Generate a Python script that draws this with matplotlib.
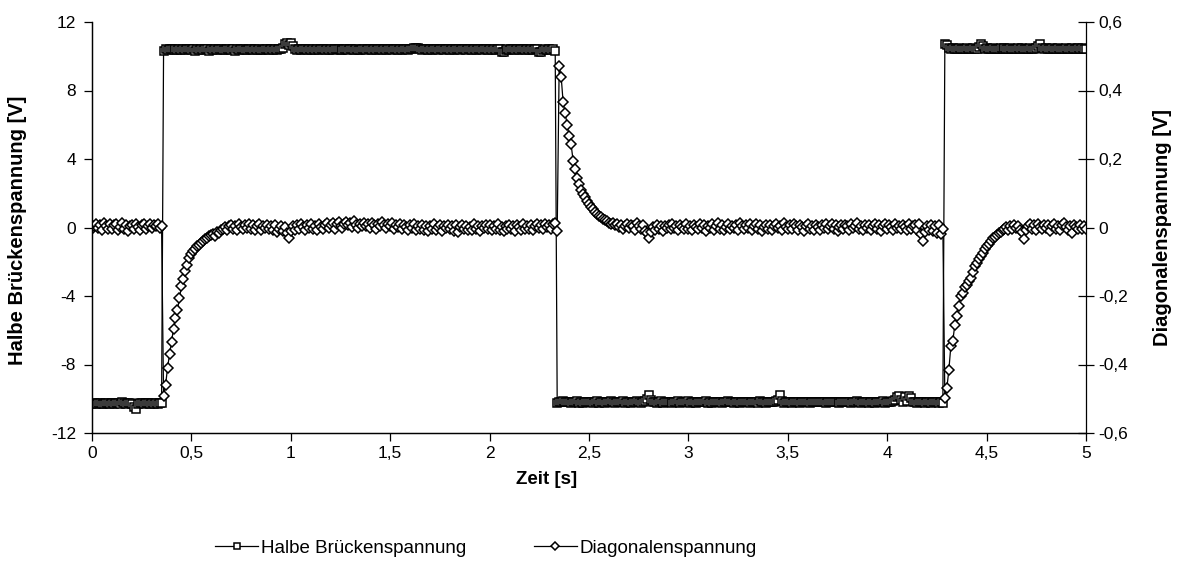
import numpy as np
import matplotlib.pyplot as plt
from matplotlib.lines import Line2D

plt.rcParams['font.family'] = ['Liberation Sans', 'DejaVu Sans']
plt.rcParams['axes.unicode_minus'] = False

# Abtastzeitpunkte (10 ms Raster)
zeit = np.linspace(0, 5, 501)

# Halbe Brückenspannung [V], eine Zeile = 0,1 s
halbe = [
    -10.28, -10.25, -10.30, -10.27, -10.24, -10.29, -10.31, -10.26, -10.22, -10.28,
    -10.25, -10.30, -10.27, -10.24, -10.29, -10.20, -10.26, -10.31, -10.27, -10.23,
    -10.29, -10.50, -10.62, -10.33, -10.26, -10.22, -10.29, -10.27, -10.24, -10.30,
    -10.26, -10.31, -10.25, -10.28, -10.22, -10.27, 10.32, 10.41, 10.38, 10.44,
    10.40, 10.36, 10.44, 10.39, 10.42, 10.35, 10.41, 10.38, 10.45, 10.40,
    10.37, 10.43, 10.30, 10.41, 10.38, 10.44, 10.36, 10.40, 10.42, 10.28,
    10.41, 10.38, 10.45, 10.37, 10.40, 10.43, 10.39, 10.36, 10.42, 10.40,
    10.38, 10.44, 10.30, 10.40, 10.37, 10.43, 10.41, 10.36, 10.39, 10.45,
    10.40, 10.37, 10.42, 10.38, 10.44, 10.39, 10.35, 10.41, 10.43, 10.38,
    10.40, 10.36, 10.42, 10.39, 10.44, 10.41, 10.48, 10.72, 10.78, 10.66,
    10.80, 10.62, 10.43, 10.38, 10.41, 10.36, 10.44, 10.40, 10.37, 10.42,
    10.39, 10.45, 10.38, 10.41, 10.36, 10.43, 10.40, 10.38, 10.44, 10.39,
    10.41, 10.37, 10.42, 10.40, 10.45, 10.38, 10.36, 10.41, 10.43, 10.39,
    10.40, 10.44, 10.37, 10.42, 10.39, 10.36, 10.41, 10.45, 10.38, 10.40,
    10.43, 10.39, 10.41, 10.37, 10.44, 10.40, 10.38, 10.42, 10.39, 10.45,
    10.41, 10.38, 10.43, 10.40, 10.36, 10.42, 10.39, 10.44, 10.41, 10.37,
    10.40, 10.43, 10.48, 10.50, 10.46, 10.41, 10.38, 10.42, 10.40, 10.37,
    10.42, 10.39, 10.44, 10.40, 10.37, 10.41, 10.43, 10.38, 10.40, 10.45,
    10.39, 10.41, 10.37, 10.43, 10.40, 10.38, 10.44, 10.41, 10.36, 10.42,
    10.40, 10.38, 10.43, 10.39, 10.41, 10.45, 10.37, 10.40, 10.42, 10.38,
    10.41, 10.39, 10.44, 10.37, 10.40, 10.42, 10.27, 10.25, 10.38, 10.41,
    10.39, 10.43, 10.40, 10.37, 10.42, 10.38, 10.44, 10.40, 10.36, 10.41,
    10.39, 10.42, 10.38, 10.44, 10.40, 10.26, 10.24, 10.37, 10.41, 10.39,
    10.42, 10.36, 10.40, 10.30, -10.22, -10.18, -10.20, -10.15, -10.21, -10.17,
    -10.20, -10.24, -10.18, -10.21, -10.16, -10.22, -10.19, -10.25, -10.20, -10.17,
    -10.21, -10.18, -10.23, -10.19, -10.15, -10.22, -10.20, -10.17, -10.24, -10.19,
    -10.21, -10.16, -10.20, -10.23, -10.18, -10.21, -10.19, -10.15, -10.22, -10.20,
    -10.17, -10.23, -10.19, -10.21, -10.16, -10.20, -10.24, -10.18, -10.12, -10.02,
    -9.78, -10.10, -10.21, -10.18, -10.22, -10.19, -10.16, -10.23, -10.20, -10.18,
    -10.21, -10.17, -10.24, -10.19, -10.20, -10.16, -10.22, -10.18, -10.21, -10.19,
    -10.15, -10.22, -10.20, -10.18, -10.23, -10.19, -10.17, -10.21, -10.20, -10.16,
    -10.22, -10.19, -10.24, -10.18, -10.20, -10.21, -10.17, -10.23, -10.19, -10.20,
    -10.16, -10.21, -10.18, -10.22, -10.20, -10.17, -10.23, -10.19, -10.21, -10.18,
    -10.20, -10.24, -10.17, -10.21, -10.19, -10.22, -10.16, -10.20, -10.18, -10.23,
    -10.19, -10.21, -10.17, -10.20, -10.15, -10.05, -9.80, -10.12, -10.22, -10.19,
    -10.21, -10.18, -10.23, -10.19, -10.20, -10.17, -10.22, -10.19, -10.21, -10.18,
    -10.20, -10.22, -10.18, -10.21, -10.19, -10.20, -10.21, -10.19, -10.20, -10.22,
    -10.19, -10.21, -10.20, -10.18, -10.21, -10.19, -10.22, -10.20, -10.19, -10.21,
    -10.20, -10.18, -10.22, -10.19, -10.21, -10.16, -10.20, -10.23, -10.18, -10.21,
    -10.19, -10.22, -10.17, -10.20, -10.24, -10.18, -10.21, -10.19, -10.16, -10.22,
    -10.20, -10.18, -10.21, -10.15, -10.10, -9.92, -9.84, -10.05, -10.18, -9.90,
    -10.12, -9.82, -9.95, -10.20, -10.17, -10.22, -10.19, -10.21, -10.18, -10.23,
    -10.20, -10.17, -10.22, -10.19, -10.21, -10.18, -10.24, -10.20, -10.22, 10.70,
    10.66, 10.48, 10.42, 10.46, 10.40, 10.44, 10.47, 10.41, 10.45, 10.43,
    10.46, 10.40, 10.44, 10.48, 10.42, 10.45, 10.52, 10.72, 10.60, 10.43,
    10.46, 10.41, 10.44, 10.47, 10.40, 10.45, 10.43, 10.48, 10.42, 10.46,
    10.44, 10.40, 10.47, 10.43, 10.45, 10.41, 10.46, 10.44, 10.48, 10.42,
    10.45, 10.43, 10.47, 10.41, 10.44, 10.50, 10.62, 10.74, 10.48, 10.43,
    10.46, 10.42, 10.45, 10.48, 10.41, 10.44, 10.47, 10.43, 10.45, 10.40,
    10.46, 10.44, 10.42, 10.47, 10.45, 10.43, 10.48, 10.44, 10.46, 10.42,
    10.45,
]

# Diagonalenspannung [V], eine Zeile = 0,1 s
diagonal = [
    -0.005, 0.004, 0.010, -0.002, 0.008, -0.006, 0.012, 0.003, -0.004, 0.009,
    -0.003, 0.006, 0.011, -0.008, 0.002, 0.014, -0.005, 0.007, -0.010, 0.004,
    0.008, -0.004, 0.010, 0.001, -0.007, 0.006, 0.011, -0.003, 0.005, 0.009,
    -0.002, 0.007, 0.004, 0.010, -0.001, 0.003, -0.493, -0.460, -0.410, -0.370,
    -0.335, -0.295, -0.265, -0.240, -0.205, -0.172, -0.150, -0.128, -0.110, -0.090,
    -0.078, -0.068, -0.062, -0.055, -0.050, -0.044, -0.040, -0.035, -0.030, -0.026,
    -0.022, -0.018, -0.025, -0.012, -0.015, -0.008, -0.004, 0.002, -0.006, 0.005,
    0.008, -0.003, 0.004, -0.006, 0.010, 0.002, -0.005, 0.007, -0.002, 0.009,
    -0.004, 0.006, -0.008, 0.003, 0.011, -0.006, 0.004, -0.002, 0.008, -0.005,
    0.003, -0.007, 0.006, -0.012, -0.004, 0.005, -0.009, 0.002, -0.015, -0.032,
    -0.010, 0.004, -0.006, 0.008, -0.003, 0.010, 0.001, -0.007, 0.006, -0.002,
    0.009, -0.004, 0.005, -0.008, 0.011, 0.002, -0.005, 0.007, 0.013, -0.001,
    0.006, 0.012, -0.003, 0.009, 0.015, 0.004, -0.002, 0.010, 0.017, 0.006,
    0.013, 0.002, 0.018, 0.008, -0.001, 0.011, 0.005, 0.014, 0.003, 0.009,
    0.000, 0.012, 0.006, -0.004, 0.010, 0.003, 0.016, 0.007, -0.002, 0.009,
    0.004, 0.013, -0.003, 0.008, 0.001, 0.011, -0.005, 0.006, 0.002, -0.006,
    0.007, -0.002, 0.010, -0.008, 0.004, -0.003, 0.008, -0.006, 0.003, -0.010,
    0.005, -0.004, 0.009, -0.007, 0.002, 0.006, -0.011, 0.004, -0.002, 0.008,
    -0.005, 0.003, -0.009, 0.006, -0.013, 0.001, 0.007, -0.004, 0.005, -0.008,
    0.002, -0.006, 0.009, -0.003, 0.005, -0.010, 0.004, -0.002, 0.008, -0.005,
    0.006, -0.008, 0.003, -0.004, 0.010, -0.006, 0.002, -0.011, 0.005, -0.003,
    0.007, -0.005, 0.004, -0.009, 0.008, 0.001, -0.006, 0.009, -0.003, 0.005,
    -0.004, 0.008, -0.007, 0.003, 0.010, -0.002, 0.006, -0.005, 0.009, 0.002,
    0.007, -0.003, 0.011, 0.014, -0.010, 0.472, 0.440, 0.365, 0.335, 0.300,
    0.267, 0.243, 0.195, 0.170, 0.145, 0.126, 0.110, 0.099, 0.088, 0.077,
    0.068, 0.060, 0.053, 0.046, 0.040, 0.035, 0.030, 0.026, 0.022, 0.018,
    0.014, 0.010, 0.012, 0.006, 0.009, 0.002, 0.007, -0.003, 0.005, 0.011,
    -0.002, 0.008, 0.003, -0.006, 0.012, 0.004, -0.004, 0.006, -0.010, -0.015,
    -0.030, -0.012, 0.002, -0.006, 0.008, -0.003, 0.005, -0.009, 0.004, -0.002,
    0.007, -0.005, 0.010, -0.002, 0.004, -0.008, 0.006, 0.001, -0.004, 0.009,
    -0.003, 0.005, -0.007, 0.008, 0.002, -0.005, 0.011, -0.001, 0.006, -0.009,
    0.004, -0.002, 0.009, -0.006, 0.003, 0.012, -0.004, 0.007, -0.008, 0.002,
    0.010, -0.005, 0.004, -0.001, 0.008, -0.007, 0.013, 0.003, -0.004, 0.006,
    -0.002, 0.009, -0.006, 0.005, 0.011, -0.003, 0.007, -0.009, 0.002, 0.008,
    -0.004, 0.006, -0.008, 0.003, 0.010, -0.002, 0.005, -0.006, 0.012, 0.001,
    -0.005, 0.007, -0.003, 0.009, 0.004, -0.007, 0.006, 0.002, -0.010, 0.005,
    0.011, -0.004, 0.003, -0.006, 0.008, 0.001, -0.008, 0.006, -0.002, 0.009,
    -0.005, 0.004, 0.010, -0.003, 0.007, -0.009, 0.002, 0.006, -0.004, 0.008,
    0.003, -0.007, 0.009, -0.002, 0.005, 0.012, -0.005, 0.004, -0.008, 0.006,
    -0.001, 0.008, -0.006, 0.004, 0.010, -0.003, 0.007, -0.009, 0.003, 0.009,
    -0.004, 0.006, 0.002, -0.007, 0.011, -0.002, 0.005, -0.005, 0.008, 0.001,
    -0.006, 0.009, -0.003, 0.004, 0.007, -0.008, 0.010, -0.020, -0.038, -0.012,
    0.004, -0.006, 0.008, -0.010, 0.003, -0.015, 0.006, -0.020, -0.005, -0.498,
    -0.469, -0.417, -0.347, -0.332, -0.284, -0.259, -0.230, -0.200, -0.190, -0.175,
    -0.167, -0.155, -0.147, -0.130, -0.113, -0.105, -0.092, -0.084, -0.074, -0.064,
    -0.055, -0.048, -0.040, -0.030, -0.028, -0.022, -0.016, -0.012, -0.008, -0.004,
    0.002, -0.006, 0.005, -0.003, 0.008, -0.002, 0.004, -0.008, -0.012, -0.035,
    -0.006, 0.004, 0.009, -0.003, 0.006, -0.007, 0.011, 0.002, -0.005, 0.008,
    -0.002, 0.006, -0.009, 0.004, 0.010, -0.004, 0.003, -0.006, 0.007, 0.012,
    0.001, -0.007, 0.005, -0.015, 0.008, 0.002, -0.004, 0.006, -0.003, 0.004,
    -0.005,
]

x_ticks = [0, 0.5, 1, 1.5, 2, 2.5, 3, 3.5, 4, 4.5, 5]
x_labels = ['0', '0,5', '1', '1,5', '2', '2,5', '3', '3,5', '4', '4,5', '5']
links_ticks = [-12, -8, -4, 0, 4, 8, 12]
rechts_ticks = [-0.6, -0.4, -0.2, 0, 0.2, 0.4, 0.6]
rechts_labels = ['-0,6', '-0,4', '-0,2', '0', '0,2', '0,4', '0,6']

W, H = 1179, 582
fig = plt.figure(figsize=(W / 100, H / 100), dpi=100)
ax = fig.add_axes([92 / W, 1 - 433 / H, (1086 - 92) / W, (433 - 22) / H])
ax2 = ax.twinx()

stil = dict(color='black', lw=0.9, mfc='white', mec='black', mew=1.1)
ax.plot(zeit, halbe, marker='s', ms=5.8, **stil)
ax2.plot(zeit, diagonal, marker='D', ms=5.0, **stil)

ax.set_xlim(0, 5)
ax.set_ylim(-12, 12)
ax2.set_ylim(-0.6, 0.6)

ax.set_xticks(x_ticks)
ax.set_xticklabels(x_labels)
ax.set_yticks(links_ticks)
ax2.set_yticks(rechts_ticks)
ax2.set_yticklabels(rechts_labels)

for a in (ax, ax2):
    a.spines['top'].set_visible(False)
    for s in a.spines.values():
        s.set_linewidth(0.9)
ax.spines['right'].set_visible(False)

ax.tick_params(axis='x', direction='out', length=6, width=0.9, labelsize=12.5, pad=3)
ax.tick_params(axis='y', direction='out', length=6, width=0.9, labelsize=12.5, pad=5.5)
ax2.tick_params(axis='y', direction='inout', length=12, width=0.9, labelsize=12.5, pad=3)

fig.text(18 / W, 1 - 230 / H, 'Halbe Brückenspannung [V]', rotation=90,
         ha='center', va='center', fontsize=14.5, fontweight='bold')
fig.text(1163 / W, 1 - 228 / H, 'Diagonalenspannung [V]', rotation=90,
         ha='center', va='center', fontsize=14.5, fontweight='bold')
fig.text(547 / W, 1 - 480 / H, 'Zeit [s]', ha='center', va='center',
         fontsize=13.5, fontweight='bold')

griffe = [
    Line2D([], [], marker='s', ms=4.2, **stil),
    Line2D([], [], marker='D', ms=3.8, **stil),
]
fig.legend(griffe, ['Halbe Brückenspannung', 'Diagonalenspannung'],
           loc='center', bbox_to_anchor=(486 / W, 1 - 548 / H), ncol=2,
           frameon=False, fontsize=13.5, handlelength=2.3, handletextpad=0.15,
           columnspacing=3.6)

fig.savefig('out.png', dpi=100)
